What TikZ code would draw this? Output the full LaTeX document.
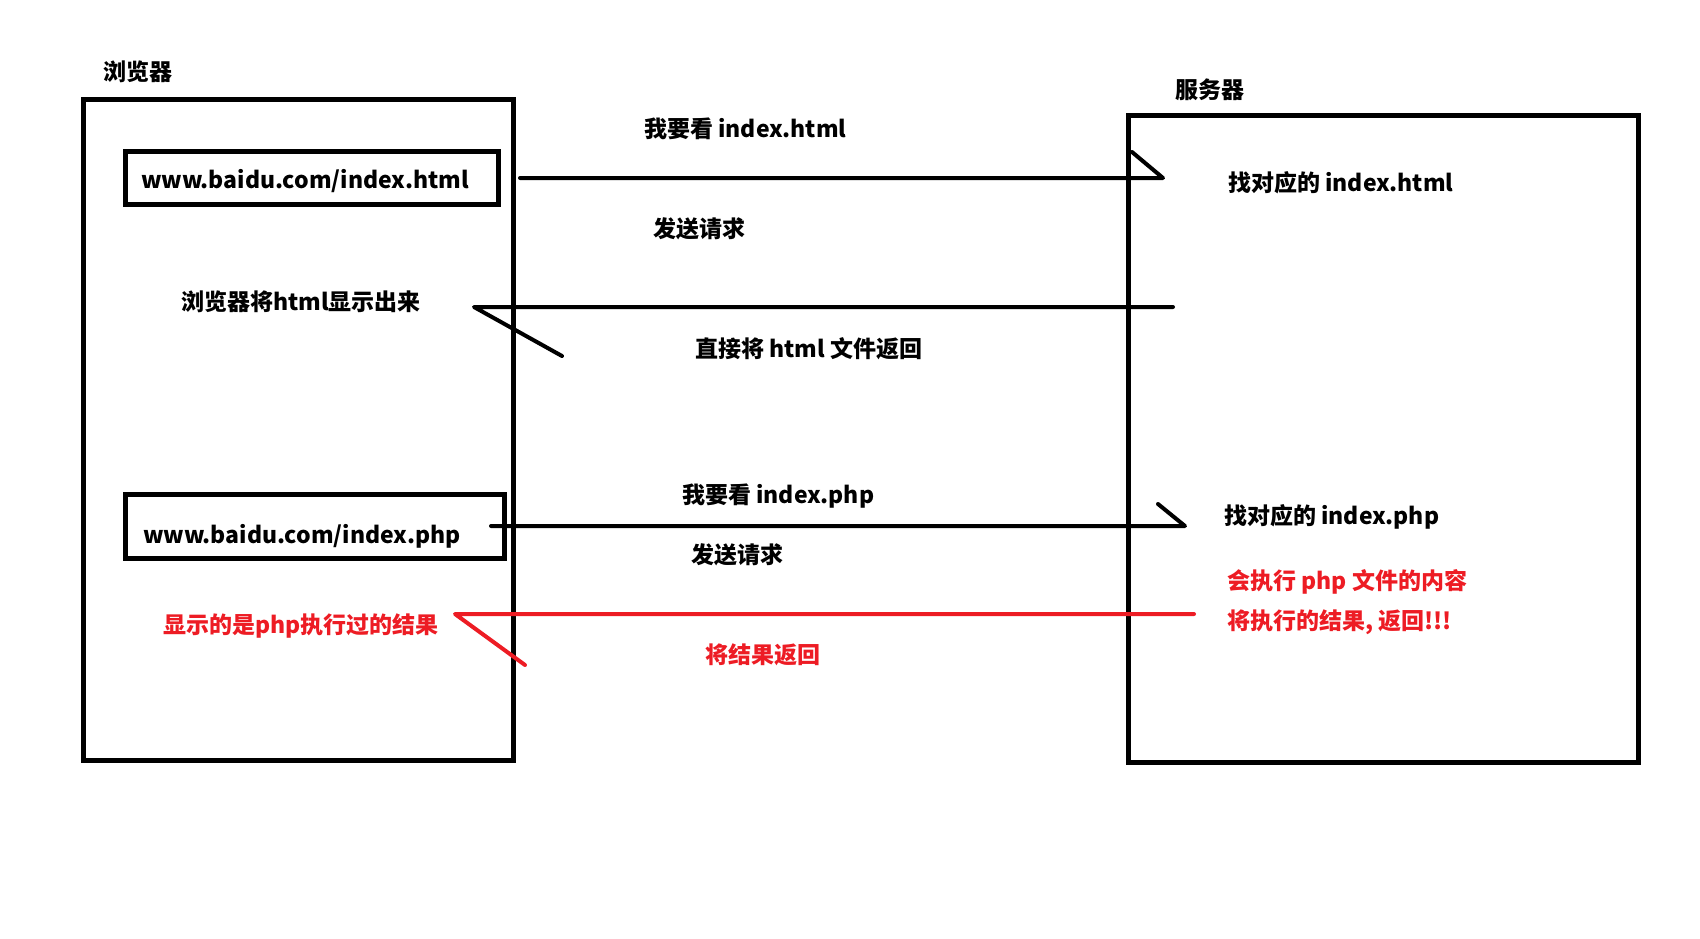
\documentclass[tikz,border=0pt]{standalone}
\usepackage{fontspec}
\setmainfont{Noto Sans CJK SC}
\definecolor{paintred}{HTML}{ED1C24}
\tikzset{
  basic/.style  = {font=\fontsize{23}{28}\selectfont\bfseries, inner sep=0pt},
  frame/.style  = {draw, line width=5pt, inner sep=0pt},
  txt/.style    = {basic, anchor=west, yshift=-2pt},
  redtxt/.style = {txt, text=paintred},
  link/.style   = {line width=4pt, line cap=round, line join=round}
}
\begin{document}
\begin{tikzpicture}[x=1pt, y=-1pt]
\useasboundingbox (0,0) rectangle (1700,938);

% browser and server
\node[frame, minimum width=430pt, minimum height=661pt] (browser) at (298,429.5) {};
\node[frame, minimum width=510pt, minimum height=647pt] (server) at (1383,438.5) {};
\node[txt] (browsername) at (103,70) {浏览器};
\node[txt] (servername) at (1175,88) {服务器};

% address bars
\node[frame, minimum width=373pt, minimum height=53pt] (url1) at (311.5,177.5) {};
\node[frame, minimum width=379pt, minimum height=64pt] (url2) at (314.5,526) {};
\node[txt] (url1txt) at (141,179) {www.baidu.com/index.html};
\node[txt] (url2txt) at (143,534) {www.baidu.com/index.php};

% what happens on each side
\node[txt] (show1) at (181,300) {浏览器将html显示出来};
\node[redtxt] (show2) at (163,624) {显示的是php执行过的结果};
\node[txt] (find1) at (1228,181) {找对应的 index.html};
\node[txt] (find2) at (1224,515) {找对应的 index.php};
\node[redtxt] (exec1) at (1227,580) {会执行 php 文件的内容};
\node[redtxt] (exec2) at (1227,620) {将执行的结果, 返回!!!};

% labels of the messages
\node[txt] (ask1) at (644,127) {我要看 index.html};
\node[txt] (send1) at (653,227) {发送请求};
\node[txt] (back1) at (695,347) {直接将 html 文件返回};
\node[txt] (ask2) at (682,494) {我要看 index.php};
\node[txt] (send2) at (691,553) {发送请求};
\node[redtxt] (back2) at (705,653) {将结果返回};

% ends of the messages
\coordinate (req1s) at (520,178);
\coordinate (req1e) at (1163,178);
\coordinate (res1s) at (1173,307);
\coordinate (res1e) at (474,307);
\coordinate (req2s) at (491,526);
\coordinate (req2e) at (1185,526);
\coordinate (res2s) at (1194,614);
\coordinate (res2e) at (455,614);

\draw[link] (req1s) -- (req1e) -- ++(-31,-26);
\draw[link] (res1s) -- (res1e) -- ++(88,49);
\draw[link] (req2s) -- (req2e) -- ++(-27,-22);
\draw[link, paintred] (res2s) -- (res2e) -- ++(70,51);
\end{tikzpicture}
\end{document}
